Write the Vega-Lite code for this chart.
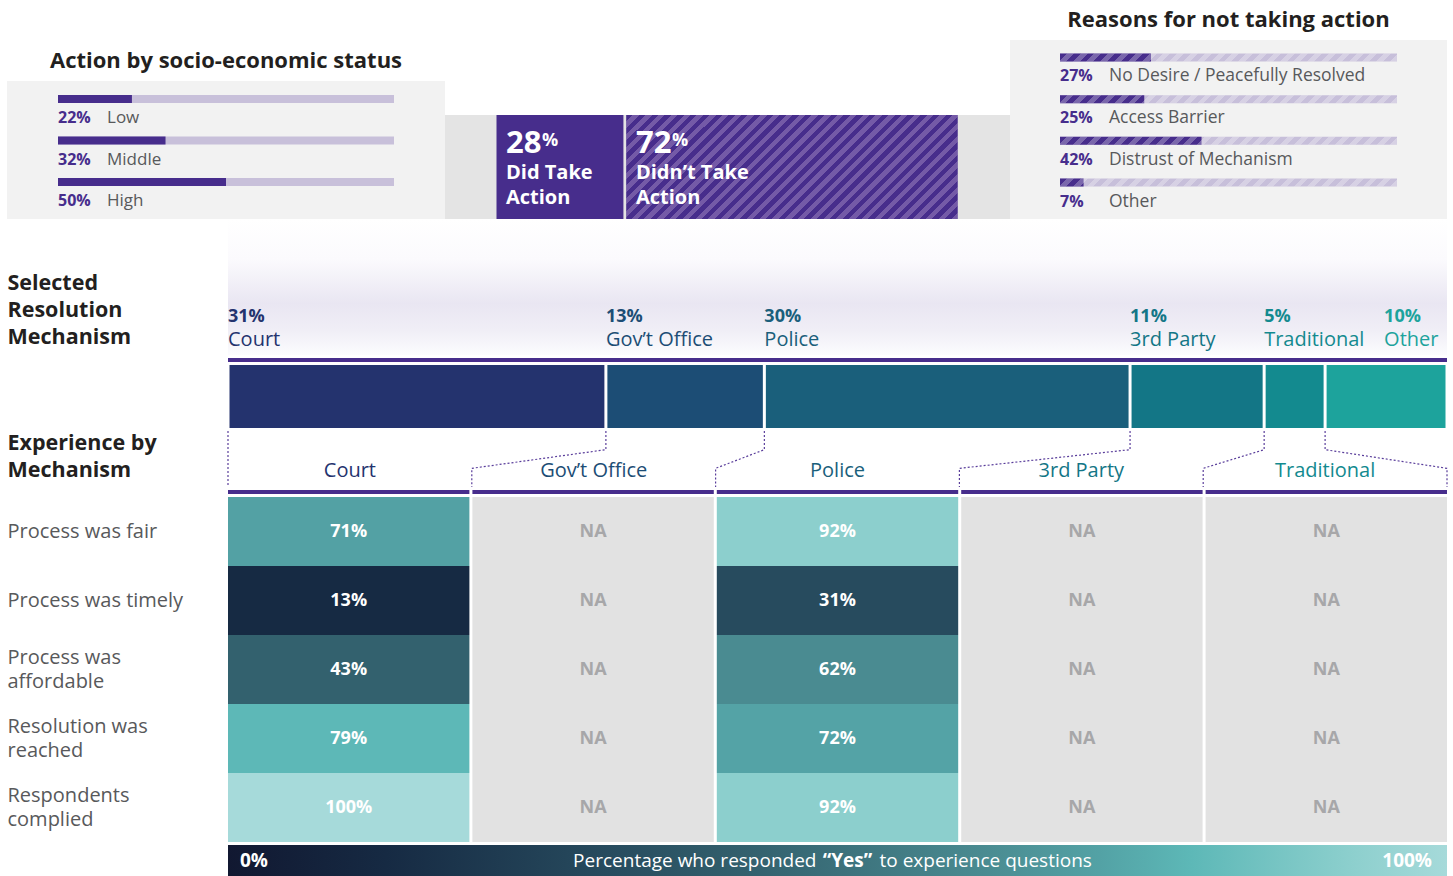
{
"$schema": "https://vega.github.io/schema/vega-lite/v6.json",
"background": "white",
"padding": {"left": 7, "right": 6, "top": 0, "bottom": 0},
"spacing": 0,
"config": {"view": {"stroke": null}, "font": "Open Sans", "axis": {"minExtent": 0, "maxExtent": 0}},
"datasets": {
  "mech": [
    {"mechanism": "Court", "pct": 0.31, "order": 1},
    {"mechanism": "Gov’t Office", "pct": 0.13, "order": 2},
    {"mechanism": "Police", "pct": 0.30, "order": 3},
    {"mechanism": "3rd Party", "pct": 0.11, "order": 4},
    {"mechanism": "Traditional", "pct": 0.05, "order": 5},
    {"mechanism": "Other", "pct": 0.10, "order": 6}
  ],
  "ses": [
    {"status": "Low", "pct": 0.22},
    {"status": "Middle", "pct": 0.32},
    {"status": "High", "pct": 0.50}
  ],
  "reasons": [
    {"reason": "No Desire / Peacefully Resolved", "pct": 0.27},
    {"reason": "Access Barrier", "pct": 0.25},
    {"reason": "Distrust of Mechanism", "pct": 0.42},
    {"reason": "Other", "pct": 0.07}
  ],
  "action": [
    {"took": "Yes", "share": 28, "order": 1, "label": "Did Take\nAction"},
    {"took": "No", "share": 72, "order": 2, "label": "Didn’t Take\nAction"}
  ],
  "experience": [
    {"mechanism": "Court", "question": "Process was fair", "yes": 0.71},
    {"mechanism": "Court", "question": "Process was timely", "yes": 0.13},
    {"mechanism": "Court", "question": "Process was affordable", "yes": 0.43},
    {"mechanism": "Court", "question": "Resolution was reached", "yes": 0.79},
    {"mechanism": "Court", "question": "Respondents complied", "yes": 1.00},
    {"mechanism": "Gov’t Office", "question": "Process was fair", "yes": null},
    {"mechanism": "Gov’t Office", "question": "Process was timely", "yes": null},
    {"mechanism": "Gov’t Office", "question": "Process was affordable", "yes": null},
    {"mechanism": "Gov’t Office", "question": "Resolution was reached", "yes": null},
    {"mechanism": "Gov’t Office", "question": "Respondents complied", "yes": null},
    {"mechanism": "Police", "question": "Process was fair", "yes": 0.92},
    {"mechanism": "Police", "question": "Process was timely", "yes": 0.31},
    {"mechanism": "Police", "question": "Process was affordable", "yes": 0.62},
    {"mechanism": "Police", "question": "Resolution was reached", "yes": 0.72},
    {"mechanism": "Police", "question": "Respondents complied", "yes": 0.92},
    {"mechanism": "3rd Party", "question": "Process was fair", "yes": null},
    {"mechanism": "3rd Party", "question": "Process was timely", "yes": null},
    {"mechanism": "3rd Party", "question": "Process was affordable", "yes": null},
    {"mechanism": "3rd Party", "question": "Resolution was reached", "yes": null},
    {"mechanism": "3rd Party", "question": "Respondents complied", "yes": null},
    {"mechanism": "Traditional", "question": "Process was fair", "yes": null},
    {"mechanism": "Traditional", "question": "Process was timely", "yes": null},
    {"mechanism": "Traditional", "question": "Process was affordable", "yes": null},
    {"mechanism": "Traditional", "question": "Resolution was reached", "yes": null},
    {"mechanism": "Traditional", "question": "Respondents complied", "yes": null}
  ],
  "connectors": [
    {"conn": "Court", "step": 1, "stage": "bar", "pos": 0},
    {"conn": "Court", "step": 2, "stage": "drop", "pos": 0},
    {"conn": "Court", "step": 3, "stage": "rise", "pos": 0},
    {"conn": "Court", "step": 4, "stage": "col", "pos": 0},
    {"conn": "Gov’t Office", "step": 1, "stage": "bar", "pos": 0.31},
    {"conn": "Gov’t Office", "step": 2, "stage": "drop", "pos": 0.31},
    {"conn": "Gov’t Office", "step": 3, "stage": "rise", "pos": 0.2},
    {"conn": "Gov’t Office", "step": 4, "stage": "col", "pos": 0.2},
    {"conn": "Police", "step": 1, "stage": "bar", "pos": 0.44},
    {"conn": "Police", "step": 2, "stage": "drop", "pos": 0.44},
    {"conn": "Police", "step": 3, "stage": "rise", "pos": 0.4},
    {"conn": "Police", "step": 4, "stage": "col", "pos": 0.4},
    {"conn": "3rd Party", "step": 1, "stage": "bar", "pos": 0.74},
    {"conn": "3rd Party", "step": 2, "stage": "drop", "pos": 0.74},
    {"conn": "3rd Party", "step": 3, "stage": "rise", "pos": 0.6},
    {"conn": "3rd Party", "step": 4, "stage": "col", "pos": 0.6},
    {"conn": "Traditional", "step": 1, "stage": "bar", "pos": 0.85},
    {"conn": "Traditional", "step": 2, "stage": "drop", "pos": 0.85},
    {"conn": "Traditional", "step": 3, "stage": "rise", "pos": 0.8},
    {"conn": "Traditional", "step": 4, "stage": "col", "pos": 0.8},
    {"conn": "Other", "step": 1, "stage": "bar", "pos": 0.90},
    {"conn": "Other", "step": 2, "stage": "drop", "pos": 0.90},
    {"conn": "Other", "step": 3, "stage": "rise", "pos": 1},
    {"conn": "Other", "step": 4, "stage": "col", "pos": 1}
  ]
},
"vconcat": [
  {
    "hconcat": [
      {
        "vconcat": [
          {
            "width": 438, "height": 81,
            "data": {"values": [{"title": "Action by socio-economic status"}]},
            "mark": {"type": "text", "fontSize": 22, "fontWeight": "bold", "color": "#231f20", "baseline": "middle", "dy": 20.5},
            "encoding": {"text": {"field": "title"}}
          },
          {
            "width": 438, "height": 138,
            "view": {"fill": "#f2f2f2", "stroke": null},
            "data": {"name": "ses"},
            "encoding": {
              "y": {"field": "status", "type": "nominal", "sort": null, "scale": {"paddingInner": 0, "paddingOuter": 0.163}, "axis": null}
            },
            "layer": [
              {"mark": {"type": "bar", "height": 8, "yOffset": -9.5, "color": "#c8c0da"},
               "encoding": {"x": {"datum": 1, "type": "quantitative", "scale": {"domain": [-0.1518, 1.1518], "nice": false, "zero": false}, "axis": null}}},
              {"mark": {"type": "bar", "height": 8, "yOffset": -9.5, "color": "#472d8c"},
               "encoding": {"x": {"field": "pct", "type": "quantitative"}}},
              {"mark": {"type": "text", "align": "left", "baseline": "middle", "dy": 9.5, "fontSize": 16, "fontWeight": "bold", "color": "#472d8c"},
               "encoding": {"x": {"datum": 0, "type": "quantitative"}, "text": {"field": "pct", "format": ".0%"}}},
              {"mark": {"type": "text", "align": "left", "baseline": "middle", "dx": 49, "dy": 9.5, "fontSize": 17, "color": "#58595b"},
               "encoding": {"x": {"datum": 0, "type": "quantitative"}, "text": {"field": "status"}}}
            ]
          }
        ],
        "spacing": 0, "bounds": "flush"
      },
      {
        "vconcat": [
          {
            "width": 565, "height": 115,
            "view": {"fill": "white", "stroke": null},
            "data": {"values": []},
            "mark": "point"
          },
          {
            "width": 565, "height": 104,
            "view": {"fill": "#e4e4e4", "stroke": null},
            "data": {"name": "action"},
            "transform": [{"stack": "share", "groupby": [], "sort": [{"field": "order"}], "as": ["start", "end"]}],
            "encoding": {"x": {"field": "start", "type": "quantitative", "scale": {"domain": [-10.776, 110.99], "nice": false, "zero": false}, "axis": null}},
            "layer": [
              {"mark": {"type": "bar", "color": "#472d8c", "xOffset": 1.5, "x2Offset": -1.5},
               "encoding": {"x2": {"field": "end"}, "y": {"datum": "action", "type": "nominal", "scale": {"paddingInner": 0, "paddingOuter": 0}, "axis": null}}},
              {"transform": [{"filter": "datum.took == 'No'"}],
               "mark": {"type": "bar", "xOffset": 1.5, "x2Offset": -1.5, "stroke": null,
                 "fill": {"gradient": "linear", "x1": 0, "y1": 0, "x2": 1.196, "y2": 0.3758, "stops": [
                  {"offset": 0, "color": "#472d8c"}, {"offset": 0.0147, "color": "#472d8c"}, {"offset": 0.0147, "color": "#745aa7"}, {"offset": 0.0294, "color": "#745aa7"},
                  {"offset": 0.0294, "color": "#472d8c"}, {"offset": 0.0441, "color": "#472d8c"}, {"offset": 0.0441, "color": "#745aa7"}, {"offset": 0.0588, "color": "#745aa7"},
                  {"offset": 0.0588, "color": "#472d8c"}, {"offset": 0.0735, "color": "#472d8c"}, {"offset": 0.0735, "color": "#745aa7"}, {"offset": 0.0882, "color": "#745aa7"},
                  {"offset": 0.0882, "color": "#472d8c"}, {"offset": 0.1029, "color": "#472d8c"}, {"offset": 0.1029, "color": "#745aa7"}, {"offset": 0.1176, "color": "#745aa7"},
                  {"offset": 0.1176, "color": "#472d8c"}, {"offset": 0.1324, "color": "#472d8c"}, {"offset": 0.1324, "color": "#745aa7"}, {"offset": 0.1471, "color": "#745aa7"},
                  {"offset": 0.1471, "color": "#472d8c"}, {"offset": 0.1618, "color": "#472d8c"}, {"offset": 0.1618, "color": "#745aa7"}, {"offset": 0.1765, "color": "#745aa7"},
                  {"offset": 0.1765, "color": "#472d8c"}, {"offset": 0.1912, "color": "#472d8c"}, {"offset": 0.1912, "color": "#745aa7"}, {"offset": 0.2059, "color": "#745aa7"},
                  {"offset": 0.2059, "color": "#472d8c"}, {"offset": 0.2206, "color": "#472d8c"}, {"offset": 0.2206, "color": "#745aa7"}, {"offset": 0.2353, "color": "#745aa7"},
                  {"offset": 0.2353, "color": "#472d8c"}, {"offset": 0.25, "color": "#472d8c"}, {"offset": 0.25, "color": "#745aa7"}, {"offset": 0.2647, "color": "#745aa7"},
                  {"offset": 0.2647, "color": "#472d8c"}, {"offset": 0.2794, "color": "#472d8c"}, {"offset": 0.2794, "color": "#745aa7"}, {"offset": 0.2941, "color": "#745aa7"},
                  {"offset": 0.2941, "color": "#472d8c"}, {"offset": 0.3088, "color": "#472d8c"}, {"offset": 0.3088, "color": "#745aa7"}, {"offset": 0.3235, "color": "#745aa7"},
                  {"offset": 0.3235, "color": "#472d8c"}, {"offset": 0.3382, "color": "#472d8c"}, {"offset": 0.3382, "color": "#745aa7"}, {"offset": 0.3529, "color": "#745aa7"},
                  {"offset": 0.3529, "color": "#472d8c"}, {"offset": 0.3676, "color": "#472d8c"}, {"offset": 0.3676, "color": "#745aa7"}, {"offset": 0.3824, "color": "#745aa7"},
                  {"offset": 0.3824, "color": "#472d8c"}, {"offset": 0.3971, "color": "#472d8c"}, {"offset": 0.3971, "color": "#745aa7"}, {"offset": 0.4118, "color": "#745aa7"},
                  {"offset": 0.4118, "color": "#472d8c"}, {"offset": 0.4265, "color": "#472d8c"}, {"offset": 0.4265, "color": "#745aa7"}, {"offset": 0.4412, "color": "#745aa7"},
                  {"offset": 0.4412, "color": "#472d8c"}, {"offset": 0.4559, "color": "#472d8c"}, {"offset": 0.4559, "color": "#745aa7"}, {"offset": 0.4706, "color": "#745aa7"},
                  {"offset": 0.4706, "color": "#472d8c"}, {"offset": 0.4853, "color": "#472d8c"}, {"offset": 0.4853, "color": "#745aa7"}, {"offset": 0.5, "color": "#745aa7"},
                  {"offset": 0.5, "color": "#472d8c"}, {"offset": 0.5147, "color": "#472d8c"}, {"offset": 0.5147, "color": "#745aa7"}, {"offset": 0.5294, "color": "#745aa7"},
                  {"offset": 0.5294, "color": "#472d8c"}, {"offset": 0.5441, "color": "#472d8c"}, {"offset": 0.5441, "color": "#745aa7"}, {"offset": 0.5588, "color": "#745aa7"},
                  {"offset": 0.5588, "color": "#472d8c"}, {"offset": 0.5735, "color": "#472d8c"}, {"offset": 0.5735, "color": "#745aa7"}, {"offset": 0.5882, "color": "#745aa7"},
                  {"offset": 0.5882, "color": "#472d8c"}, {"offset": 0.6029, "color": "#472d8c"}, {"offset": 0.6029, "color": "#745aa7"}, {"offset": 0.6176, "color": "#745aa7"},
                  {"offset": 0.6176, "color": "#472d8c"}, {"offset": 0.6324, "color": "#472d8c"}, {"offset": 0.6324, "color": "#745aa7"}, {"offset": 0.6471, "color": "#745aa7"},
                  {"offset": 0.6471, "color": "#472d8c"}, {"offset": 0.6618, "color": "#472d8c"}, {"offset": 0.6618, "color": "#745aa7"}, {"offset": 0.6765, "color": "#745aa7"},
                  {"offset": 0.6765, "color": "#472d8c"}, {"offset": 0.6912, "color": "#472d8c"}, {"offset": 0.6912, "color": "#745aa7"}, {"offset": 0.7059, "color": "#745aa7"},
                  {"offset": 0.7059, "color": "#472d8c"}, {"offset": 0.7206, "color": "#472d8c"}, {"offset": 0.7206, "color": "#745aa7"}, {"offset": 0.7353, "color": "#745aa7"},
                  {"offset": 0.7353, "color": "#472d8c"}, {"offset": 0.75, "color": "#472d8c"}, {"offset": 0.75, "color": "#745aa7"}, {"offset": 0.7647, "color": "#745aa7"},
                  {"offset": 0.7647, "color": "#472d8c"}, {"offset": 0.7794, "color": "#472d8c"}, {"offset": 0.7794, "color": "#745aa7"}, {"offset": 0.7941, "color": "#745aa7"},
                  {"offset": 0.7941, "color": "#472d8c"}, {"offset": 0.8088, "color": "#472d8c"}, {"offset": 0.8088, "color": "#745aa7"}, {"offset": 0.8235, "color": "#745aa7"},
                  {"offset": 0.8235, "color": "#472d8c"}, {"offset": 0.8382, "color": "#472d8c"}, {"offset": 0.8382, "color": "#745aa7"}, {"offset": 0.8529, "color": "#745aa7"},
                  {"offset": 0.8529, "color": "#472d8c"}, {"offset": 0.8676, "color": "#472d8c"}, {"offset": 0.8676, "color": "#745aa7"}, {"offset": 0.8824, "color": "#745aa7"},
                  {"offset": 0.8824, "color": "#472d8c"}, {"offset": 0.8971, "color": "#472d8c"}, {"offset": 0.8971, "color": "#745aa7"}, {"offset": 0.9118, "color": "#745aa7"},
                  {"offset": 0.9118, "color": "#472d8c"}, {"offset": 0.9265, "color": "#472d8c"}, {"offset": 0.9265, "color": "#745aa7"}, {"offset": 0.9412, "color": "#745aa7"},
                  {"offset": 0.9412, "color": "#472d8c"}, {"offset": 0.9559, "color": "#472d8c"}, {"offset": 0.9559, "color": "#745aa7"}, {"offset": 0.9706, "color": "#745aa7"},
                  {"offset": 0.9706, "color": "#472d8c"}, {"offset": 0.9853, "color": "#472d8c"}, {"offset": 0.9853, "color": "#745aa7"}, {"offset": 1, "color": "#745aa7"}
                 ]}},
               "encoding": {"x2": {"field": "end"}, "y": {"datum": "action", "type": "nominal"}}},
              {"mark": {"type": "text", "align": "left", "baseline": "alphabetic", "dx": 11, "dy": -14, "fontSize": 31, "fontWeight": "bold", "color": "white"},
               "encoding": {"text": {"field": "share", "format": "d"}}},
              {"mark": {"type": "text", "align": "left", "baseline": "alphabetic", "dx": 47, "dy": -21, "fontSize": 18, "fontWeight": "bold", "color": "white"},
               "encoding": {"text": {"value": "%"}}},
              {"mark": {"type": "text", "align": "left", "baseline": "middle", "dx": 11, "dy": 5.5, "fontSize": 20, "fontWeight": "bold", "color": "white", "lineBreak": "\n", "lineHeight": 25},
               "encoding": {"text": {"field": "label"}}}
            ]
          }
        ],
        "spacing": 0, "bounds": "flush"
      },
      {
        "vconcat": [
          {
            "width": 437, "height": 40,
            "data": {"values": [{"title": "Reasons for not taking action"}]},
            "mark": {"type": "text", "fontSize": 22, "fontWeight": "bold", "color": "#231f20", "baseline": "middle"},
            "encoding": {"text": {"field": "title"}}
          },
          {
            "width": 437, "height": 179,
            "view": {"fill": "#f2f2f2", "stroke": null},
            "data": {"name": "reasons"},
            "encoding": {
              "y": {"field": "reason", "type": "nominal", "sort": null, "scale": {"paddingInner": 0, "paddingOuter": 0.146}, "axis": null}
            },
            "layer": [
              {"mark": {"type": "bar", "height": 8, "yOffset": -9.5, "color": "#c7bfda"},
               "encoding": {"x": {"datum": 1, "type": "quantitative", "scale": {"domain": [-0.14837, 1.14837], "nice": false, "zero": false}, "axis": null}}},
              {"mark": {"type": "bar", "height": 8, "yOffset": -9.5, "color": "#472d8c"},
               "encoding": {"x": {"field": "pct", "type": "quantitative"}}},
              {"mark": {"type": "bar", "height": 8, "yOffset": -9.5, "stroke": null,
                 "fill": {"gradient": "linear", "x1": 0, "y1": 0, "x2": 1.0232, "y2": 0.0243, "stops": [
                  {"offset": 0, "color": "rgba(255,255,255,0)"}, {"offset": 0.02, "color": "rgba(255,255,255,0)"}, {"offset": 0.02, "color": "rgba(255,255,255,0.28)"}, {"offset": 0.04, "color": "rgba(255,255,255,0.28)"},
                  {"offset": 0.04, "color": "rgba(255,255,255,0)"}, {"offset": 0.06, "color": "rgba(255,255,255,0)"}, {"offset": 0.06, "color": "rgba(255,255,255,0.28)"}, {"offset": 0.08, "color": "rgba(255,255,255,0.28)"},
                  {"offset": 0.08, "color": "rgba(255,255,255,0)"}, {"offset": 0.10, "color": "rgba(255,255,255,0)"}, {"offset": 0.10, "color": "rgba(255,255,255,0.28)"}, {"offset": 0.12, "color": "rgba(255,255,255,0.28)"},
                  {"offset": 0.12, "color": "rgba(255,255,255,0)"}, {"offset": 0.14, "color": "rgba(255,255,255,0)"}, {"offset": 0.14, "color": "rgba(255,255,255,0.28)"}, {"offset": 0.16, "color": "rgba(255,255,255,0.28)"},
                  {"offset": 0.16, "color": "rgba(255,255,255,0)"}, {"offset": 0.18, "color": "rgba(255,255,255,0)"}, {"offset": 0.18, "color": "rgba(255,255,255,0.28)"}, {"offset": 0.20, "color": "rgba(255,255,255,0.28)"},
                  {"offset": 0.20, "color": "rgba(255,255,255,0)"}, {"offset": 0.22, "color": "rgba(255,255,255,0)"}, {"offset": 0.22, "color": "rgba(255,255,255,0.28)"}, {"offset": 0.24, "color": "rgba(255,255,255,0.28)"},
                  {"offset": 0.24, "color": "rgba(255,255,255,0)"}, {"offset": 0.26, "color": "rgba(255,255,255,0)"}, {"offset": 0.26, "color": "rgba(255,255,255,0.28)"}, {"offset": 0.28, "color": "rgba(255,255,255,0.28)"},
                  {"offset": 0.28, "color": "rgba(255,255,255,0)"}, {"offset": 0.30, "color": "rgba(255,255,255,0)"}, {"offset": 0.30, "color": "rgba(255,255,255,0.28)"}, {"offset": 0.32, "color": "rgba(255,255,255,0.28)"},
                  {"offset": 0.32, "color": "rgba(255,255,255,0)"}, {"offset": 0.34, "color": "rgba(255,255,255,0)"}, {"offset": 0.34, "color": "rgba(255,255,255,0.28)"}, {"offset": 0.36, "color": "rgba(255,255,255,0.28)"},
                  {"offset": 0.36, "color": "rgba(255,255,255,0)"}, {"offset": 0.38, "color": "rgba(255,255,255,0)"}, {"offset": 0.38, "color": "rgba(255,255,255,0.28)"}, {"offset": 0.40, "color": "rgba(255,255,255,0.28)"},
                  {"offset": 0.40, "color": "rgba(255,255,255,0)"}, {"offset": 0.42, "color": "rgba(255,255,255,0)"}, {"offset": 0.42, "color": "rgba(255,255,255,0.28)"}, {"offset": 0.44, "color": "rgba(255,255,255,0.28)"},
                  {"offset": 0.44, "color": "rgba(255,255,255,0)"}, {"offset": 0.46, "color": "rgba(255,255,255,0)"}, {"offset": 0.46, "color": "rgba(255,255,255,0.28)"}, {"offset": 0.48, "color": "rgba(255,255,255,0.28)"},
                  {"offset": 0.48, "color": "rgba(255,255,255,0)"}, {"offset": 0.50, "color": "rgba(255,255,255,0)"}, {"offset": 0.50, "color": "rgba(255,255,255,0.28)"}, {"offset": 0.52, "color": "rgba(255,255,255,0.28)"},
                  {"offset": 0.52, "color": "rgba(255,255,255,0)"}, {"offset": 0.54, "color": "rgba(255,255,255,0)"}, {"offset": 0.54, "color": "rgba(255,255,255,0.28)"}, {"offset": 0.56, "color": "rgba(255,255,255,0.28)"},
                  {"offset": 0.56, "color": "rgba(255,255,255,0)"}, {"offset": 0.58, "color": "rgba(255,255,255,0)"}, {"offset": 0.58, "color": "rgba(255,255,255,0.28)"}, {"offset": 0.60, "color": "rgba(255,255,255,0.28)"},
                  {"offset": 0.60, "color": "rgba(255,255,255,0)"}, {"offset": 0.62, "color": "rgba(255,255,255,0)"}, {"offset": 0.62, "color": "rgba(255,255,255,0.28)"}, {"offset": 0.64, "color": "rgba(255,255,255,0.28)"},
                  {"offset": 0.64, "color": "rgba(255,255,255,0)"}, {"offset": 0.66, "color": "rgba(255,255,255,0)"}, {"offset": 0.66, "color": "rgba(255,255,255,0.28)"}, {"offset": 0.68, "color": "rgba(255,255,255,0.28)"},
                  {"offset": 0.68, "color": "rgba(255,255,255,0)"}, {"offset": 0.70, "color": "rgba(255,255,255,0)"}, {"offset": 0.70, "color": "rgba(255,255,255,0.28)"}, {"offset": 0.72, "color": "rgba(255,255,255,0.28)"},
                  {"offset": 0.72, "color": "rgba(255,255,255,0)"}, {"offset": 0.74, "color": "rgba(255,255,255,0)"}, {"offset": 0.74, "color": "rgba(255,255,255,0.28)"}, {"offset": 0.76, "color": "rgba(255,255,255,0.28)"},
                  {"offset": 0.76, "color": "rgba(255,255,255,0)"}, {"offset": 0.78, "color": "rgba(255,255,255,0)"}, {"offset": 0.78, "color": "rgba(255,255,255,0.28)"}, {"offset": 0.80, "color": "rgba(255,255,255,0.28)"},
                  {"offset": 0.80, "color": "rgba(255,255,255,0)"}, {"offset": 0.82, "color": "rgba(255,255,255,0)"}, {"offset": 0.82, "color": "rgba(255,255,255,0.28)"}, {"offset": 0.84, "color": "rgba(255,255,255,0.28)"},
                  {"offset": 0.84, "color": "rgba(255,255,255,0)"}, {"offset": 0.86, "color": "rgba(255,255,255,0)"}, {"offset": 0.86, "color": "rgba(255,255,255,0.28)"}, {"offset": 0.88, "color": "rgba(255,255,255,0.28)"},
                  {"offset": 0.88, "color": "rgba(255,255,255,0)"}, {"offset": 0.90, "color": "rgba(255,255,255,0)"}, {"offset": 0.90, "color": "rgba(255,255,255,0.28)"}, {"offset": 0.92, "color": "rgba(255,255,255,0.28)"},
                  {"offset": 0.92, "color": "rgba(255,255,255,0)"}, {"offset": 0.94, "color": "rgba(255,255,255,0)"}, {"offset": 0.94, "color": "rgba(255,255,255,0.28)"}, {"offset": 0.96, "color": "rgba(255,255,255,0.28)"},
                  {"offset": 0.96, "color": "rgba(255,255,255,0)"}, {"offset": 0.98, "color": "rgba(255,255,255,0)"}, {"offset": 0.98, "color": "rgba(255,255,255,0.28)"}, {"offset": 1, "color": "rgba(255,255,255,0.28)"}
                 ]}},
               "encoding": {"x": {"datum": 1, "type": "quantitative"}}},
              {"mark": {"type": "text", "align": "left", "baseline": "middle", "dy": 9.5, "fontSize": 16, "fontWeight": "bold", "color": "#472d8c"},
               "encoding": {"x": {"datum": 0, "type": "quantitative"}, "text": {"field": "pct", "format": ".0%"}}},
              {"mark": {"type": "text", "align": "left", "baseline": "middle", "dx": 49, "dy": 9.5, "fontSize": 17.5, "color": "#58595b"},
               "encoding": {"x": {"datum": 0, "type": "quantitative"}, "text": {"field": "reason"}}}
            ]
          }
        ],
        "spacing": 0, "bounds": "flush"
      }
    ],
    "spacing": 0
  },
  {
    "hconcat": [
      {
        "vconcat": [
          {
            "width": 220, "height": 209,
            "data": {"values": [{"label": "Selected Resolution Mechanism"}]},
            "mark": {"type": "rect", "color": "white"},
            "encoding": {
              "y": {"field": "label", "type": "nominal", "scale": {"paddingInner": 0, "paddingOuter": 0},
                    "axis": {"title": null, "ticks": false, "tickSize": 0, "domain": false, "labelPadding": 0, "labelAlign": "left", "labelBaseline": "middle", "labelOffset": -39.5, "labelFontSize": 21.5, "labelFontWeight": "bold", "labelColor": "#231f20", "labelLineHeight": 27, "labelLimit": 0, "labelExpr": "split(datum.label, ' ')"}}
            }
          },
          {
            "width": 220, "height": 63,
            "data": {"values": [{"label": "Experience by Mechanism"}]},
            "mark": {"type": "rect", "color": "white"},
            "encoding": {
              "y": {"field": "label", "type": "nominal", "scale": {"paddingInner": 0, "paddingOuter": 0},
                    "axis": {"title": null, "ticks": false, "tickSize": 0, "domain": false, "labelPadding": 0, "labelAlign": "left", "labelBaseline": "middle", "labelOffset": -18.5, "labelFontSize": 21.5, "labelFontWeight": "bold", "labelColor": "#231f20", "labelLineHeight": 27, "labelLimit": 0,
                             "labelExpr": "[substring(datum.label, 0, lastindexof(datum.label, ' ')), substring(datum.label, lastindexof(datum.label, ' ') + 1)]"}}
            }
          },
          {
            "width": 220, "height": 345,
            "data": {"name": "experience"},
            "transform": [{"filter": "datum.mechanism == 'Court'"}],
            "mark": {"type": "rect", "color": "white"},
            "encoding": {
              "y": {"field": "question", "type": "nominal", "sort": ["Process was fair", "Process was timely", "Process was affordable", "Resolution was reached", "Respondents complied"], "scale": {"paddingInner": 0, "paddingOuter": 0},
                    "axis": {"title": null, "ticks": false, "tickSize": 0, "domain": false, "labelPadding": 0, "labelAlign": "left", "labelBaseline": "middle", "labelFontSize": 20, "labelColor": "#58595b", "labelLineHeight": 24, "labelLimit": 0,
                             "labelOffset": {"expr": "length(datum.label) > 19 ? -12 : 0"},
                             "labelExpr": "length(datum.label) > 19 ? [substring(datum.label, 0, lastindexof(datum.label, ' ')), substring(datum.label, lastindexof(datum.label, ' ') + 1)] : datum.label"}}
            }
          }
        ],
        "spacing": 3, "bounds": "flush"
      },
      {
        "vconcat": [
          {
            "width": 1219, "height": 136,
            "data": {"name": "mech"},
            "transform": [{"stack": "pct", "groupby": [], "sort": [{"field": "order"}], "as": ["start", "end"]}],
            "encoding": {
              "x": {"field": "start", "type": "quantitative", "scale": {"domain": [0, 1]}, "axis": null},
              "color": {"field": "mechanism", "type": "nominal", "scale": {"domain": ["Court", "Gov’t Office", "Police", "3rd Party", "Traditional", "Other"], "range": ["#24336e", "#1c4d75", "#1a5f7b", "#137686", "#138a8f", "#1da39c"]}, "legend": null}
            },
            "layer": [
              {"data": {"values": [{"from": 0, "to": 1}]},
               "mark": {"type": "bar", "stroke": null,
                 "fill": {"gradient": "linear", "x1": 0, "y1": 0, "x2": 0, "y2": 1, "stops": [
                   {"offset": 0, "color": "#ffffff"}, {"offset": 0.3, "color": "#fbfafd"}, {"offset": 0.62, "color": "#e9e6f2"}, {"offset": 0.82, "color": "#f0eef6"}, {"offset": 1, "color": "#fcfcfe"}]}},
               "encoding": {
                 "x": {"field": "from", "type": "quantitative"},
                 "x2": {"field": "to"},
                 "y": {"datum": "funnel", "type": "nominal", "scale": {"paddingInner": 0, "paddingOuter": 0}, "axis": null},
                 "color": null
               }},
              {"transform": [{"filter": "datum.mechanism != 'Other'"}],
               "mark": {"type": "text", "align": "left", "baseline": "middle", "dy": 29.5, "fontSize": 18, "fontWeight": "bold"},
               "encoding": {"text": {"field": "pct", "format": ".0%"}}},
              {"transform": [{"filter": "datum.mechanism != 'Other'"}],
               "mark": {"type": "text", "align": "left", "baseline": "middle", "dy": 52.5, "fontSize": 20},
               "encoding": {"text": {"field": "mechanism"}}},
              {"transform": [{"filter": "datum.mechanism == 'Other'"}],
               "mark": {"type": "text", "align": "left", "baseline": "middle", "dx": 59, "dy": 29.5, "fontSize": 18, "fontWeight": "bold"},
               "encoding": {"text": {"field": "pct", "format": ".0%"}}},
              {"transform": [{"filter": "datum.mechanism == 'Other'"}],
               "mark": {"type": "text", "align": "left", "baseline": "middle", "dx": 59, "dy": 52.5, "fontSize": 20},
               "encoding": {"text": {"field": "mechanism"}}}
            ]
          },
          {
            "width": 1219, "height": 4,
            "data": {"values": [{"share": 1}]},
            "mark": {"type": "bar", "color": "#472d8c"},
            "encoding": {
              "x": {"field": "share", "type": "quantitative", "scale": {"domain": [0, 1]}, "axis": null},
              "y": {"datum": "all", "type": "nominal", "scale": {"paddingInner": 0, "paddingOuter": 0}, "axis": null}
            }
          },
          {
            "width": 1219, "height": 63,
            "data": {"name": "mech"},
            "transform": [{"stack": "pct", "groupby": [], "sort": [{"field": "order"}], "as": ["start", "end"]}],
            "mark": {"type": "bar", "xOffset": 1.5, "x2Offset": -1.5},
            "encoding": {
              "x": {"field": "start", "type": "quantitative", "scale": {"domain": [0, 1]}, "axis": null},
              "x2": {"field": "end"},
              "y": {"datum": "Selected Resolution Mechanism", "type": "nominal", "scale": {"paddingInner": 0, "paddingOuter": 0}, "axis": null},
              "color": {"field": "mechanism", "type": "nominal", "scale": {"domain": ["Court", "Gov’t Office", "Police", "3rd Party", "Traditional", "Other"], "range": ["#24336e", "#1c4d75", "#1a5f7b", "#137686", "#138a8f", "#1da39c"]}, "legend": null}
            }
          },
          {
            "width": 1219, "height": 56,
            "layer": [
              {"data": {"name": "connectors"},
               "mark": {"type": "line", "color": "#5a3e9b", "strokeDash": [2, 2], "strokeWidth": 1.2, "strokeJoin": "round"},
               "encoding": {
                 "x": {"field": "pos", "type": "quantitative", "scale": {"domain": [0, 1]}, "axis": null},
                 "y": {"field": "stage", "type": "nominal", "sort": ["bar", "drop", "rise", "col"], "scale": {"type": "point", "padding": 0}, "axis": null},
                 "detail": {"field": "conn"},
                 "order": {"field": "step"}
               }},
              {"data": {"name": "mech"},
               "transform": [{"filter": "datum.mechanism != 'Other'"}],
               "mark": {"type": "text", "baseline": "middle", "dy": 12, "fontSize": 20},
               "encoding": {
                 "x": {"field": "mechanism", "type": "nominal", "sort": ["Court", "Gov’t Office", "Police", "3rd Party", "Traditional"], "scale": {"paddingInner": 0.0123, "paddingOuter": 0}, "axis": null},
                 "text": {"field": "mechanism"},
                 "color": {"field": "mechanism", "type": "nominal", "scale": {"domain": ["Court", "Gov’t Office", "Police", "3rd Party", "Traditional", "Other"], "range": ["#24336e", "#1c4d75", "#1a5f7b", "#137686", "#138a8f", "#1da39c"]}, "legend": null}
               }}
            ],
            "resolve": {"scale": {"x": "independent"}}
          },
          {
            "width": 1219, "height": 4,
            "data": {"name": "mech"},
            "transform": [{"filter": "datum.mechanism != 'Other'"}],
            "mark": {"type": "bar", "color": "#472d8c"},
            "encoding": {"x": {"field": "mechanism", "type": "nominal", "sort": ["Court", "Gov’t Office", "Police", "3rd Party", "Traditional"], "scale": {"paddingInner": 0.0123, "paddingOuter": 0}, "axis": null}}
          },
          {
            "width": 1219, "height": 345,
            "data": {"name": "experience"},
            "encoding": {
              "x": {"field": "mechanism", "type": "nominal", "sort": ["Court", "Gov’t Office", "Police", "3rd Party", "Traditional"], "scale": {"paddingInner": 0.0123, "paddingOuter": 0}, "axis": null},
              "y": {"field": "question", "type": "nominal", "sort": ["Process was fair", "Process was timely", "Process was affordable", "Resolution was reached", "Respondents complied"], "scale": {"paddingInner": 0, "paddingOuter": 0}, "axis": null}
            },
            "layer": [
              {"transform": [{"filter": "datum.yes == null"}],
               "mark": {"type": "rect", "color": "#e2e2e2"}},
              {"transform": [{"filter": "datum.yes != null"}],
               "mark": {"type": "rect"},
               "encoding": {"color": {"field": "yes", "type": "quantitative", "legend": null,
                 "scale": {"type": "linear", "interpolate": "rgb", "domain": [0, 0.13, 0.31, 0.43, 0.62, 0.715, 0.79, 0.92, 1], "range": ["#111831", "#162a43", "#274b5e", "#33616e", "#4a8b91", "#53a2a5", "#5db8b7", "#8ccfcd", "#a6dada"]}}}},
              {"transform": [{"filter": "datum.yes != null"}],
               "mark": {"type": "text", "baseline": "middle", "fontSize": 18, "fontWeight": "bold", "color": "white"},
               "encoding": {"text": {"field": "yes", "format": ".0%"}}},
              {"transform": [{"filter": "datum.yes == null"}],
               "mark": {"type": "text", "baseline": "middle", "fontSize": 18, "fontWeight": "bold", "color": "#a7a7a9"},
               "encoding": {"text": {"value": "NA"}}}
            ]
          },
          {
            "width": 1219, "height": 31,
            "layer": [
              {"data": {"values": [{"from": 0, "to": 1}]},
               "mark": {"type": "bar", "stroke": null,
                 "fill": {"gradient": "linear", "x1": 0, "y1": 0, "x2": 1, "y2": 0, "stops": [
                   {"offset": 0, "color": "#111831"}, {"offset": 0.13, "color": "#162a43"}, {"offset": 0.31, "color": "#274b5e"}, {"offset": 0.43, "color": "#33616e"}, {"offset": 0.62, "color": "#4a8b91"}, {"offset": 0.715, "color": "#53a2a5"}, {"offset": 0.79, "color": "#5db8b7"}, {"offset": 0.92, "color": "#8ccfcd"}, {"offset": 1, "color": "#a6dada"}]}},
               "encoding": {
                 "x": {"field": "from", "type": "quantitative", "scale": {"domain": [0, 1]}, "axis": null},
                 "x2": {"field": "to"},
                 "y": {"datum": "legend", "type": "nominal", "scale": {"paddingInner": 0, "paddingOuter": 0}, "axis": null}
               }},
              {"data": {"values": [{"t": "0%"}]},
               "mark": {"type": "text", "align": "left", "baseline": "middle", "dx": 12, "fontSize": 19, "fontWeight": "bold", "color": "white"},
               "encoding": {"x": {"datum": 0, "type": "quantitative"}, "text": {"field": "t"}}},
              {"data": {"values": [{"t": "100%"}]},
               "mark": {"type": "text", "align": "right", "baseline": "middle", "dx": -15, "fontSize": 19, "fontWeight": "bold", "color": "white"},
               "encoding": {"x": {"datum": 1, "type": "quantitative"}, "text": {"field": "t"}}},
              {"data": {"values": [{"t": "Percentage who responded"}]},
               "mark": {"type": "text", "align": "right", "baseline": "middle", "dx": -21, "fontSize": 19, "color": "white"},
               "encoding": {"x": {"datum": 0.5, "type": "quantitative"}, "text": {"field": "t"}}},
              {"data": {"values": [{"t": "“Yes”"}]},
               "mark": {"type": "text", "align": "center", "baseline": "middle", "dx": 10, "fontSize": 19, "fontWeight": "bold", "color": "white"},
               "encoding": {"x": {"datum": 0.5, "type": "quantitative"}, "text": {"field": "t"}}},
              {"data": {"values": [{"t": "to experience questions"}]},
               "mark": {"type": "text", "align": "left", "baseline": "middle", "dx": 42, "fontSize": 19, "color": "white"},
               "encoding": {"x": {"datum": 0.5, "type": "quantitative"}, "text": {"field": "t"}}}
            ]
          }
        ],
        "spacing": 3, "bounds": "flush"
      }
    ],
    "spacing": 0
  }
]
}
